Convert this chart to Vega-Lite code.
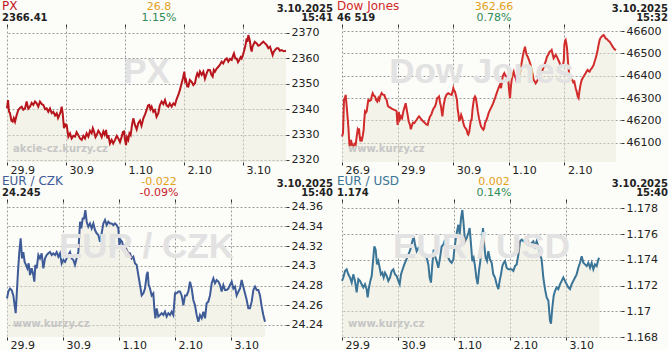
{
"$schema": "https://vega.github.io/schema/vega-lite/v6.json",
"background": "#fcfcf8",
"padding": {"left": 2, "top": 0, "right": 0, "bottom": 0},
"bounds": "flush",
"columns": 2,
"spacing": {"row": 40, "column": 56},
"datasets": {
"px": [{"d":0,"v":2340.3},{"d":0.017,"v":2343.6},{"d":0.034,"v":2339.0},{"d":0.051,"v":2338.4},{"d":0.075,"v":2335.5},{"d":0.096,"v":2335.1},{"d":0.115,"v":2336.5},{"d":0.136,"v":2335.1},{"d":0.164,"v":2337.7},{"d":0.192,"v":2339.7},{"d":0.22,"v":2340.5},{"d":0.249,"v":2341.0},{"d":0.277,"v":2339.8},{"d":0.305,"v":2340.3},{"d":0.333,"v":2343.0},{"d":0.36,"v":2340.2},{"d":0.39,"v":2341.0},{"d":0.418,"v":2342.5},{"d":0.446,"v":2341.7},{"d":0.475,"v":2343.0},{"d":0.503,"v":2342.3},{"d":0.53,"v":2341.0},{"d":0.559,"v":2343.0},{"d":0.59,"v":2342.0},{"d":0.616,"v":2341.7},{"d":0.645,"v":2340.0},{"d":0.672,"v":2340.3},{"d":0.7,"v":2339.0},{"d":0.729,"v":2340.3},{"d":0.757,"v":2338.5},{"d":0.785,"v":2339.0},{"d":0.815,"v":2337.5},{"d":0.842,"v":2338.4},{"d":0.865,"v":2336.5},{"d":0.887,"v":2337.7},{"d":0.91,"v":2339.0},{"d":0.927,"v":2341.0},{"d":0.944,"v":2338.4},{"d":0.966,"v":2332.5},{"d":0.99,"v":2334.0},{"d":1.011,"v":2333.8},{"d":1.04,"v":2329.2},{"d":1.068,"v":2330.5},{"d":1.096,"v":2328.5},{"d":1.125,"v":2329.5},{"d":1.153,"v":2329.2},{"d":1.18,"v":2331.0},{"d":1.209,"v":2329.8},{"d":1.237,"v":2328.5},{"d":1.266,"v":2327.9},{"d":1.294,"v":2329.5},{"d":1.322,"v":2328.5},{"d":1.35,"v":2330.5},{"d":1.379,"v":2329.2},{"d":1.407,"v":2331.5},{"d":1.435,"v":2330.5},{"d":1.455,"v":2332.5},{"d":1.475,"v":2331.2},{"d":1.5,"v":2329.0},{"d":1.52,"v":2329.8},{"d":1.548,"v":2331.5},{"d":1.576,"v":2330.5},{"d":1.605,"v":2329.0},{"d":1.633,"v":2331.2},{"d":1.655,"v":2330.0},{"d":1.678,"v":2331.8},{"d":1.7,"v":2328.5},{"d":1.718,"v":2329.8},{"d":1.745,"v":2326.5},{"d":1.774,"v":2327.9},{"d":1.8,"v":2326.5},{"d":1.831,"v":2327.9},{"d":1.86,"v":2329.5},{"d":1.887,"v":2328.5},{"d":1.915,"v":2327.0},{"d":1.944,"v":2329.2},{"d":1.965,"v":2331.0},{"d":1.983,"v":2331.2},{"d":2.0,"v":2328.0},{"d":2.017,"v":2325.9},{"d":2.035,"v":2329.0},{"d":2.056,"v":2327.9},{"d":2.075,"v":2330.5},{"d":2.096,"v":2329.8},{"d":2.12,"v":2334.0},{"d":2.141,"v":2336.4},{"d":2.169,"v":2333.8},{"d":2.198,"v":2332.0},{"d":2.225,"v":2334.5},{"d":2.254,"v":2335.5},{"d":2.28,"v":2333.5},{"d":2.311,"v":2336.4},{"d":2.34,"v":2338.0},{"d":2.367,"v":2339.7},{"d":2.39,"v":2341.5},{"d":2.412,"v":2341.7},{"d":2.432,"v":2340.0},{"d":2.452,"v":2341.0},{"d":2.48,"v":2339.0},{"d":2.508,"v":2339.7},{"d":2.535,"v":2337.0},{"d":2.565,"v":2338.4},{"d":2.59,"v":2341.5},{"d":2.621,"v":2343.0},{"d":2.65,"v":2342.0},{"d":2.678,"v":2343.6},{"d":2.705,"v":2341.5},{"d":2.734,"v":2341.0},{"d":2.76,"v":2342.3},{"d":2.791,"v":2341.0},{"d":2.82,"v":2342.3},{"d":2.847,"v":2341.7},{"d":2.875,"v":2344.0},{"d":2.904,"v":2345.6},{"d":2.93,"v":2347.5},{"d":2.96,"v":2350.2},{"d":2.985,"v":2352.5},{"d":3.006,"v":2354.8},{"d":3.02,"v":2351.0},{"d":3.034,"v":2351.5},{"d":3.055,"v":2349.0},{"d":3.073,"v":2348.9},{"d":3.1,"v":2351.5},{"d":3.13,"v":2350.8},{"d":3.158,"v":2349.5},{"d":3.186,"v":2350.2},{"d":3.205,"v":2352.5},{"d":3.226,"v":2354.1},{"d":3.25,"v":2353.0},{"d":3.271,"v":2354.8},{"d":3.3,"v":2353.5},{"d":3.328,"v":2354.8},{"d":3.355,"v":2352.0},{"d":3.384,"v":2354.1},{"d":3.41,"v":2355.5},{"d":3.441,"v":2355.4},{"d":3.465,"v":2353.5},{"d":3.486,"v":2352.8},{"d":3.505,"v":2355.5},{"d":3.525,"v":2354.8},{"d":3.555,"v":2356.0},{"d":3.582,"v":2356.7},{"d":3.61,"v":2357.5},{"d":3.638,"v":2358.7},{"d":3.665,"v":2358.0},{"d":3.695,"v":2359.4},{"d":3.725,"v":2360.0},{"d":3.751,"v":2358.7},{"d":3.78,"v":2359.8},{"d":3.808,"v":2359.4},{"d":3.83,"v":2361.0},{"d":3.847,"v":2362.0},{"d":3.87,"v":2360.0},{"d":3.893,"v":2360.0},{"d":3.915,"v":2358.5},{"d":3.938,"v":2359.4},{"d":3.96,"v":2360.5},{"d":3.977,"v":2360.0},{"d":4.0,"v":2361.5},{"d":4.023,"v":2363.3},{"d":4.045,"v":2365.5},{"d":4.062,"v":2367.9},{"d":4.075,"v":2366.5},{"d":4.09,"v":2369.2},{"d":4.105,"v":2368.0},{"d":4.119,"v":2366.6},{"d":4.133,"v":2364.0},{"d":4.147,"v":2362.7},{"d":4.16,"v":2364.5},{"d":4.175,"v":2365.3},{"d":4.2,"v":2366.5},{"d":4.232,"v":2365.9},{"d":4.26,"v":2365.0},{"d":4.288,"v":2365.3},{"d":4.315,"v":2366.0},{"d":4.345,"v":2366.6},{"d":4.37,"v":2366.0},{"d":4.401,"v":2365.3},{"d":4.43,"v":2364.0},{"d":4.458,"v":2364.6},{"d":4.48,"v":2363.0},{"d":4.503,"v":2361.3},{"d":4.52,"v":2362.5},{"d":4.542,"v":2363.3},{"d":4.57,"v":2364.0},{"d":4.599,"v":2364.0},{"d":4.625,"v":2363.0},{"d":4.655,"v":2363.3},{"d":4.69,"v":2362.8},{"d":4.729,"v":2363.0}],
"dow": [{"d":0,"v":46128},{"d":0.018,"v":46143},{"d":0.036,"v":46292},{"d":0.05,"v":46300},{"d":0.066,"v":46314},{"d":0.078,"v":46280},{"d":0.09,"v":46247},{"d":0.102,"v":46210},{"d":0.114,"v":46173},{"d":0.126,"v":46120},{"d":0.138,"v":46084},{"d":0.15,"v":46095},{"d":0.162,"v":46113},{"d":0.18,"v":46090},{"d":0.204,"v":46084},{"d":0.225,"v":46095},{"d":0.246,"v":46091},{"d":0.265,"v":46130},{"d":0.282,"v":46158},{"d":0.295,"v":46150},{"d":0.306,"v":46165},{"d":0.318,"v":46130},{"d":0.33,"v":46106},{"d":0.342,"v":46115},{"d":0.354,"v":46106},{"d":0.372,"v":46130},{"d":0.39,"v":46158},{"d":0.4,"v":46200},{"d":0.414,"v":46240},{"d":0.43,"v":46235},{"d":0.444,"v":46240},{"d":0.46,"v":46270},{"d":0.474,"v":46292},{"d":0.5,"v":46288},{"d":0.522,"v":46292},{"d":0.537,"v":46310},{"d":0.552,"v":46322},{"d":0.575,"v":46310},{"d":0.594,"v":46307},{"d":0.615,"v":46290},{"d":0.635,"v":46284},{"d":0.655,"v":46300},{"d":0.671,"v":46292},{"d":0.69,"v":46310},{"d":0.713,"v":46322},{"d":0.735,"v":46315},{"d":0.761,"v":46314},{"d":0.78,"v":46300},{"d":0.803,"v":46292},{"d":0.82,"v":46270},{"d":0.833,"v":46262},{"d":0.86,"v":46258},{"d":0.881,"v":46255},{"d":0.91,"v":46250},{"d":0.941,"v":46247},{"d":0.965,"v":46245},{"d":0.983,"v":46240},{"d":0.992,"v":46200},{"d":1.001,"v":46180},{"d":1.012,"v":46230},{"d":1.025,"v":46232},{"d":1.04,"v":46205},{"d":1.061,"v":46218},{"d":1.08,"v":46210},{"d":1.103,"v":46240},{"d":1.125,"v":46260},{"d":1.145,"v":46277},{"d":1.163,"v":46250},{"d":1.181,"v":46225},{"d":1.2,"v":46195},{"d":1.223,"v":46180},{"d":1.238,"v":46160},{"d":1.253,"v":46173},{"d":1.275,"v":46190},{"d":1.301,"v":46188},{"d":1.32,"v":46195},{"d":1.343,"v":46203},{"d":1.365,"v":46212},{"d":1.385,"v":46218},{"d":1.41,"v":46210},{"d":1.433,"v":46203},{"d":1.463,"v":46195},{"d":1.493,"v":46188},{"d":1.515,"v":46182},{"d":1.541,"v":46180},{"d":1.56,"v":46200},{"d":1.583,"v":46218},{"d":1.605,"v":46225},{"d":1.625,"v":46240},{"d":1.65,"v":46255},{"d":1.673,"v":46262},{"d":1.69,"v":46275},{"d":1.709,"v":46299},{"d":1.727,"v":46302},{"d":1.745,"v":46307},{"d":1.763,"v":46280},{"d":1.781,"v":46262},{"d":1.795,"v":46235},{"d":1.805,"v":46218},{"d":1.83,"v":46270},{"d":1.853,"v":46299},{"d":1.88,"v":46315},{"d":1.912,"v":46322},{"d":1.94,"v":46318},{"d":1.972,"v":46314},{"d":1.99,"v":46330},{"d":2.002,"v":46344},{"d":2.017,"v":46332},{"d":2.032,"v":46329},{"d":2.05,"v":46310},{"d":2.068,"v":46292},{"d":2.08,"v":46250},{"d":2.092,"v":46232},{"d":2.107,"v":46200},{"d":2.122,"v":46203},{"d":2.143,"v":46225},{"d":2.164,"v":46210},{"d":2.18,"v":46190},{"d":2.2,"v":46173},{"d":2.22,"v":46165},{"d":2.242,"v":46158},{"d":2.26,"v":46140},{"d":2.272,"v":46136},{"d":2.29,"v":46150},{"d":2.302,"v":46173},{"d":2.318,"v":46200},{"d":2.332,"v":46203},{"d":2.348,"v":46250},{"d":2.362,"v":46277},{"d":2.377,"v":46300},{"d":2.392,"v":46307},{"d":2.407,"v":46300},{"d":2.422,"v":46277},{"d":2.443,"v":46240},{"d":2.464,"v":46210},{"d":2.482,"v":46190},{"d":2.5,"v":46173},{"d":2.52,"v":46165},{"d":2.542,"v":46158},{"d":2.557,"v":46165},{"d":2.572,"v":46188},{"d":2.596,"v":46200},{"d":2.62,"v":46218},{"d":2.64,"v":46235},{"d":2.662,"v":46247},{"d":2.692,"v":46262},{"d":2.716,"v":46275},{"d":2.74,"v":46292},{"d":2.76,"v":46305},{"d":2.782,"v":46322},{"d":2.8,"v":46335},{"d":2.824,"v":46351},{"d":2.842,"v":46360},{"d":2.86,"v":46344},{"d":2.875,"v":46370},{"d":2.89,"v":46396},{"d":2.905,"v":46405},{"d":2.92,"v":46411},{"d":2.94,"v":46400},{"d":2.962,"v":46396},{"d":2.978,"v":46390},{"d":2.992,"v":46374},{"d":3.007,"v":46330},{"d":3.022,"v":46299},{"d":3.037,"v":46350},{"d":3.052,"v":46381},{"d":3.07,"v":46405},{"d":3.088,"v":46418},{"d":3.106,"v":46400},{"d":3.124,"v":46389},{"d":3.14,"v":46375},{"d":3.159,"v":46381},{"d":3.175,"v":46395},{"d":3.189,"v":46404},{"d":3.205,"v":46420},{"d":3.219,"v":46441},{"d":3.24,"v":46470},{"d":3.261,"v":46500},{"d":3.276,"v":46515},{"d":3.291,"v":46530},{"d":3.306,"v":46510},{"d":3.321,"v":46493},{"d":3.34,"v":46485},{"d":3.363,"v":46470},{"d":3.39,"v":46450},{"d":3.411,"v":46426},{"d":3.43,"v":46405},{"d":3.447,"v":46381},{"d":3.465,"v":46375},{"d":3.483,"v":46366},{"d":3.5,"v":46372},{"d":3.519,"v":46381},{"d":3.535,"v":46400},{"d":3.549,"v":46418},{"d":3.57,"v":46415},{"d":3.591,"v":46418},{"d":3.615,"v":46430},{"d":3.639,"v":46448},{"d":3.665,"v":46465},{"d":3.687,"v":46485},{"d":3.71,"v":46495},{"d":3.735,"v":46508},{"d":3.755,"v":46510},{"d":3.771,"v":46515},{"d":3.79,"v":46495},{"d":3.807,"v":46478},{"d":3.825,"v":46485},{"d":3.843,"v":46493},{"d":3.865,"v":46485},{"d":3.891,"v":46470},{"d":3.91,"v":46460},{"d":3.927,"v":46448},{"d":3.95,"v":46448},{"d":3.975,"v":46448},{"d":3.99,"v":46470},{"d":3.999,"v":46537},{"d":4.011,"v":46555},{"d":4.023,"v":46560},{"d":4.035,"v":46545},{"d":4.047,"v":46523},{"d":4.06,"v":46480},{"d":4.071,"v":46441},{"d":4.085,"v":46410},{"d":4.101,"v":46396},{"d":4.12,"v":46385},{"d":4.143,"v":46381},{"d":4.16,"v":46370},{"d":4.179,"v":46374},{"d":4.19,"v":46360},{"d":4.203,"v":46344},{"d":4.22,"v":46330},{"d":4.239,"v":46307},{"d":4.255,"v":46300},{"d":4.269,"v":46329},{"d":4.29,"v":46360},{"d":4.311,"v":46381},{"d":4.33,"v":46390},{"d":4.347,"v":46396},{"d":4.365,"v":46405},{"d":4.382,"v":46411},{"d":4.4,"v":46420},{"d":4.418,"v":46426},{"d":4.436,"v":46420},{"d":4.454,"v":46418},{"d":4.472,"v":46428},{"d":4.49,"v":46433},{"d":4.508,"v":46440},{"d":4.526,"v":46448},{"d":4.545,"v":46465},{"d":4.562,"v":46478},{"d":4.58,"v":46495},{"d":4.598,"v":46515},{"d":4.616,"v":46540},{"d":4.634,"v":46560},{"d":4.652,"v":46570},{"d":4.67,"v":46575},{"d":4.688,"v":46580},{"d":4.706,"v":46582},{"d":4.724,"v":46575},{"d":4.742,"v":46567},{"d":4.76,"v":46565},{"d":4.778,"v":46560},{"d":4.796,"v":46555},{"d":4.814,"v":46552},{"d":4.832,"v":46545},{"d":4.85,"v":46537},{"d":4.868,"v":46530},{"d":4.886,"v":46523},{"d":4.905,"v":46518},{"d":4.928,"v":46515}],
"czk": [{"d":0,"v":24.267},{"d":0.024,"v":24.274},{"d":0.054,"v":24.277},{"d":0.083,"v":24.2755},{"d":0.113,"v":24.27},{"d":0.137,"v":24.26},{"d":0.155,"v":24.252},{"d":0.173,"v":24.27},{"d":0.196,"v":24.294},{"d":0.22,"v":24.314},{"d":0.244,"v":24.328},{"d":0.268,"v":24.3076},{"d":0.292,"v":24.314},{"d":0.315,"v":24.304},{"d":0.339,"v":24.301},{"d":0.363,"v":24.2975},{"d":0.387,"v":24.3025},{"d":0.411,"v":24.2907},{"d":0.44,"v":24.2975},{"d":0.47,"v":24.2907},{"d":0.488,"v":24.284},{"d":0.506,"v":24.301},{"d":0.53,"v":24.2975},{"d":0.56,"v":24.311},{"d":0.589,"v":24.3076},{"d":0.619,"v":24.3127},{"d":0.649,"v":24.2975},{"d":0.679,"v":24.3076},{"d":0.708,"v":24.311},{"d":0.738,"v":24.3127},{"d":0.768,"v":24.314},{"d":0.798,"v":24.311},{"d":0.827,"v":24.3127},{"d":0.857,"v":24.311},{"d":0.887,"v":24.314},{"d":0.917,"v":24.3093},{"d":0.946,"v":24.3127},{"d":0.976,"v":24.3025},{"d":1.006,"v":24.306},{"d":1.036,"v":24.304},{"d":1.065,"v":24.3076},{"d":1.095,"v":24.311},{"d":1.125,"v":24.314},{"d":1.155,"v":24.3076},{"d":1.185,"v":24.306},{"d":1.214,"v":24.301},{"d":1.244,"v":24.3076},{"d":1.274,"v":24.314},{"d":1.304,"v":24.3448},{"d":1.327,"v":24.338},{"d":1.351,"v":24.348},{"d":1.375,"v":24.348},{"d":1.399,"v":24.3566},{"d":1.423,"v":24.3448},{"d":1.452,"v":24.3397},{"d":1.482,"v":24.343},{"d":1.512,"v":24.338},{"d":1.542,"v":24.343},{"d":1.571,"v":24.3363},{"d":1.601,"v":24.333},{"d":1.631,"v":24.3313},{"d":1.661,"v":24.3245},{"d":1.69,"v":24.333},{"d":1.72,"v":24.343},{"d":1.75,"v":24.3465},{"d":1.78,"v":24.3414},{"d":1.81,"v":24.3448},{"d":1.839,"v":24.343},{"d":1.869,"v":24.343},{"d":1.899,"v":24.3414},{"d":1.929,"v":24.343},{"d":1.958,"v":24.3414},{"d":1.988,"v":24.338},{"d":2.006,"v":24.3211},{"d":2.03,"v":24.3262},{"d":2.054,"v":24.3245},{"d":2.077,"v":24.3194},{"d":2.107,"v":24.3211},{"d":2.137,"v":24.316},{"d":2.167,"v":24.3127},{"d":2.196,"v":24.3127},{"d":2.226,"v":24.3076},{"d":2.256,"v":24.3093},{"d":2.286,"v":24.3025},{"d":2.315,"v":24.301},{"d":2.345,"v":24.2907},{"d":2.375,"v":24.2806},{"d":2.405,"v":24.27},{"d":2.435,"v":24.2721},{"d":2.464,"v":24.277},{"d":2.494,"v":24.2907},{"d":2.512,"v":24.294},{"d":2.53,"v":24.2806},{"d":2.554,"v":24.277},{"d":2.583,"v":24.27},{"d":2.613,"v":24.2721},{"d":2.631,"v":24.2569},{"d":2.649,"v":24.2468},{"d":2.673,"v":24.2569},{"d":2.702,"v":24.2485},{"d":2.732,"v":24.2501},{"d":2.762,"v":24.252},{"d":2.792,"v":24.2501},{"d":2.821,"v":24.2535},{"d":2.851,"v":24.2485},{"d":2.881,"v":24.252},{"d":2.911,"v":24.2501},{"d":2.94,"v":24.2535},{"d":2.97,"v":24.2501},{"d":3.0,"v":24.2721},{"d":3.03,"v":24.2721},{"d":3.06,"v":24.274},{"d":3.089,"v":24.274},{"d":3.119,"v":24.27},{"d":3.149,"v":24.26},{"d":3.179,"v":24.27},{"d":3.208,"v":24.27},{"d":3.238,"v":24.274},{"d":3.268,"v":24.284},{"d":3.298,"v":24.277},{"d":3.327,"v":24.2654},{"d":3.357,"v":24.26},{"d":3.387,"v":24.2501},{"d":3.417,"v":24.2434},{"d":3.446,"v":24.2501},{"d":3.476,"v":24.2468},{"d":3.506,"v":24.2535},{"d":3.536,"v":24.2468},{"d":3.565,"v":24.262},{"d":3.595,"v":24.2637},{"d":3.625,"v":24.27},{"d":3.655,"v":24.2823},{"d":3.685,"v":24.2873},{"d":3.714,"v":24.2823},{"d":3.744,"v":24.2856},{"d":3.774,"v":24.284},{"d":3.804,"v":24.2806},{"d":3.833,"v":24.274},{"d":3.863,"v":24.2806},{"d":3.893,"v":24.2755},{"d":3.923,"v":24.2755},{"d":3.952,"v":24.277},{"d":3.982,"v":24.2806},{"d":4.012,"v":24.284},{"d":4.042,"v":24.277},{"d":4.071,"v":24.2789},{"d":4.101,"v":24.27},{"d":4.131,"v":24.2738},{"d":4.161,"v":24.277},{"d":4.19,"v":24.2856},{"d":4.22,"v":24.2789},{"d":4.25,"v":24.2721},{"d":4.28,"v":24.2654},{"d":4.31,"v":24.2569},{"d":4.339,"v":24.2569},{"d":4.369,"v":24.2637},{"d":4.399,"v":24.2755},{"d":4.429,"v":24.2789},{"d":4.458,"v":24.2755},{"d":4.488,"v":24.2755},{"d":4.518,"v":24.27},{"d":4.548,"v":24.2586},{"d":4.577,"v":24.2501},{"d":4.607,"v":24.2434}],
"usd": [{"d":0,"v":1.17236},{"d":0.024,"v":1.17262},{"d":0.054,"v":1.17313},{"d":0.083,"v":1.17326},{"d":0.113,"v":1.17287},{"d":0.143,"v":1.17262},{"d":0.173,"v":1.17223},{"d":0.202,"v":1.17287},{"d":0.232,"v":1.17236},{"d":0.262,"v":1.17146},{"d":0.292,"v":1.17249},{"d":0.321,"v":1.17236},{"d":0.351,"v":1.1721},{"d":0.381,"v":1.17185},{"d":0.411,"v":1.1721},{"d":0.44,"v":1.17172},{"d":0.458,"v":1.17108},{"d":0.482,"v":1.17185},{"d":0.506,"v":1.17236},{"d":0.53,"v":1.17274},{"d":0.554,"v":1.1739},{"d":0.577,"v":1.17505},{"d":0.601,"v":1.17479},{"d":0.625,"v":1.17364},{"d":0.649,"v":1.1739},{"d":0.673,"v":1.17338},{"d":0.696,"v":1.17287},{"d":0.72,"v":1.173},{"d":0.744,"v":1.17262},{"d":0.768,"v":1.173},{"d":0.798,"v":1.17274},{"d":0.827,"v":1.17236},{"d":0.857,"v":1.17262},{"d":0.887,"v":1.17313},{"d":0.917,"v":1.17326},{"d":0.946,"v":1.17287},{"d":0.976,"v":1.17274},{"d":1.006,"v":1.17236},{"d":1.03,"v":1.1721},{"d":1.054,"v":1.17287},{"d":1.083,"v":1.17326},{"d":1.113,"v":1.17364},{"d":1.137,"v":1.1739},{"d":1.161,"v":1.17415},{"d":1.185,"v":1.17441},{"d":1.22,"v":1.17479},{"d":1.256,"v":1.17544},{"d":1.28,"v":1.17582},{"d":1.304,"v":1.17518},{"d":1.333,"v":1.17467},{"d":1.363,"v":1.17492},{"d":1.393,"v":1.17479},{"d":1.423,"v":1.17467},{"d":1.452,"v":1.17441},{"d":1.482,"v":1.17428},{"d":1.512,"v":1.17415},{"d":1.542,"v":1.17364},{"d":1.565,"v":1.17262},{"d":1.589,"v":1.17223},{"d":1.613,"v":1.17364},{"d":1.637,"v":1.17479},{"d":1.661,"v":1.17428},{"d":1.69,"v":1.1739},{"d":1.72,"v":1.17338},{"d":1.75,"v":1.17415},{"d":1.78,"v":1.17505},{"d":1.81,"v":1.17518},{"d":1.839,"v":1.17556},{"d":1.869,"v":1.17467},{"d":1.899,"v":1.17415},{"d":1.929,"v":1.1739},{"d":1.958,"v":1.17377},{"d":1.988,"v":1.17403},{"d":2.006,"v":1.17479},{"d":2.03,"v":1.17556},{"d":2.054,"v":1.17621},{"d":2.077,"v":1.17672},{"d":2.101,"v":1.17595},{"d":2.125,"v":1.17723},{"d":2.149,"v":1.17787},{"d":2.173,"v":1.17672},{"d":2.196,"v":1.17544},{"d":2.226,"v":1.17569},{"d":2.256,"v":1.17608},{"d":2.28,"v":1.17646},{"d":2.304,"v":1.17518},{"d":2.327,"v":1.1739},{"d":2.351,"v":1.17415},{"d":2.375,"v":1.17351},{"d":2.399,"v":1.17262},{"d":2.423,"v":1.1721},{"d":2.446,"v":1.17313},{"d":2.47,"v":1.1739},{"d":2.494,"v":1.17531},{"d":2.518,"v":1.17646},{"d":2.542,"v":1.17505},{"d":2.565,"v":1.17415},{"d":2.589,"v":1.1739},{"d":2.613,"v":1.17467},{"d":2.643,"v":1.17403},{"d":2.673,"v":1.17377},{"d":2.702,"v":1.17287},{"d":2.732,"v":1.17262},{"d":2.762,"v":1.1721},{"d":2.792,"v":1.17172},{"d":2.815,"v":1.17236},{"d":2.839,"v":1.17287},{"d":2.863,"v":1.17351},{"d":2.887,"v":1.17377},{"d":2.911,"v":1.1739},{"d":2.94,"v":1.17338},{"d":2.97,"v":1.17326},{"d":3.0,"v":1.17326},{"d":3.03,"v":1.17326},{"d":3.06,"v":1.17313},{"d":3.089,"v":1.17351},{"d":3.119,"v":1.17364},{"d":3.149,"v":1.17441},{"d":3.179,"v":1.17544},{"d":3.208,"v":1.17556},{"d":3.238,"v":1.17544},{"d":3.268,"v":1.17556},{"d":3.298,"v":1.17569},{"d":3.327,"v":1.17531},{"d":3.357,"v":1.17518},{"d":3.387,"v":1.17531},{"d":3.417,"v":1.17544},{"d":3.446,"v":1.17505},{"d":3.476,"v":1.17544},{"d":3.506,"v":1.17505},{"d":3.536,"v":1.17441},{"d":3.565,"v":1.17403},{"d":3.595,"v":1.17262},{"d":3.625,"v":1.17172},{"d":3.655,"v":1.17108},{"d":3.685,"v":1.17082},{"d":3.714,"v":1.16928},{"d":3.732,"v":1.16903},{"d":3.756,"v":1.17031},{"d":3.78,"v":1.17121},{"d":3.804,"v":1.17159},{"d":3.833,"v":1.17185},{"d":3.863,"v":1.17172},{"d":3.893,"v":1.1721},{"d":3.923,"v":1.17236},{"d":3.952,"v":1.17262},{"d":3.982,"v":1.17236},{"d":4.012,"v":1.1721},{"d":4.042,"v":1.17185},{"d":4.071,"v":1.17172},{"d":4.101,"v":1.1721},{"d":4.131,"v":1.17236},{"d":4.161,"v":1.17262},{"d":4.19,"v":1.17287},{"d":4.22,"v":1.17338},{"d":4.25,"v":1.17377},{"d":4.28,"v":1.17428},{"d":4.31,"v":1.17377},{"d":4.339,"v":1.17364},{"d":4.369,"v":1.17351},{"d":4.399,"v":1.17377},{"d":4.429,"v":1.17338},{"d":4.458,"v":1.17377},{"d":4.488,"v":1.17326},{"d":4.518,"v":1.17364},{"d":4.548,"v":1.17351},{"d":4.577,"v":1.17403},{"d":4.595,"v":1.17415}]
},
"concat": [
{"width": 279, "height": 135,
 "resolve": {"axis": {"x": "independent", "y": "independent"}},
 "layer": [
  {"data": {"name": "px"}, "mark": {"type": "area", "color": "#e9e9d8", "opacity": 0.45},
   "encoding": {"x": {"field": "d", "type": "quantitative", "title": null, "scale": {"domain": [0, 4.729], "nice": false, "zero": false}, "axis": {"orient": "top", "values": [0,1,2,3,4], "labels": false, "grid": false, "tickSize": 3}},
     "y": {"field": "v", "type": "quantitative", "title": null, "scale": {"domain": [2319.21, 2372.36], "zero": false, "nice": false}, "axis": null},
     "y2": {"datum": 2319.21}}},
  {"data": {"name": "px"}, "mark": {"type": "line", "color": "#b8141c", "strokeWidth": 2},
   "encoding": {"x": {"field": "d", "type": "quantitative", "title": null, "scale": {"domain": [0, 4.729], "nice": false, "zero": false},
     "axis": {"orient": "bottom", "values": [0,1,2,3,4], "labelExpr": "['29.9','30.9','1.10','2.10','3.10'][datum.value]", "labelAlign": "left", "labelOffset": 3, "labelPadding": -1, "tickSize": 3, "grid": true, "labelFlush": false, "labelBound": false, "labelOverlap": false}},
     "y": {"field": "v", "type": "quantitative", "title": null, "scale": {"domain": [2319.21, 2372.36], "zero": false, "nice": false},
     "axis": {"orient": "right", "values": [2320,2330,2340,2350,2360,2370], "format": "d", "tickSize": 3, "labelPadding": 2, "grid": true}}}},
  {"data": {"values": [{"t": "PX"}]}, "mark": {"type": "text", "font": "Liberation Sans", "fontWeight": "bold", "fontSize": 35, "color": "#e2e2e2", "align": "center", "baseline": "alphabetic"},
   "encoding": {"text": {"field": "t"}, "x": {"datum": 2.3645, "type": "quantitative", "axis": null}, "y": {"datum": 2350.3, "type": "quantitative", "axis": null}}},
  {"data": {"values": [{"t": "akcie-cz.kurzy.cz"}]}, "mark": {"type": "text", "fontWeight": "bold", "fontSize": 10, "color": "#c6c6c6", "align": "left", "baseline": "alphabetic", "dx": 6},
   "encoding": {"text": {"field": "t"}, "x": {"datum": 0, "type": "quantitative", "axis": null}, "y": {"datum": 2323.15, "type": "quantitative", "axis": null}}},
  {"data": {"values": [{"t": "PX"}]}, "mark": {"type": "text", "fontSize": 12, "color": "#c0161e", "align": "left", "baseline": "alphabetic", "dx": -5, "dy": -17},
   "encoding": {"text": {"field": "t"}, "x": {"datum": 0, "type": "quantitative", "axis": null}, "y": {"datum": 2372.36, "type": "quantitative", "axis": null}}},
  {"data": {"values": [{"t": "2366.41"}]}, "mark": {"type": "text", "fontSize": 10, "fontWeight": "bold", "color": "#222222", "align": "left", "baseline": "alphabetic", "dx": -5, "dy": -6.5},
   "encoding": {"text": {"field": "t"}, "x": {"datum": 0, "type": "quantitative", "axis": null}, "y": {"datum": 2372.36, "type": "quantitative", "axis": null}}},
  {"data": {"values": [{"t": "26.8"}]}, "mark": {"type": "text", "fontSize": 11, "color": "#e3a11a", "align": "center", "baseline": "alphabetic", "dy": -17.5},
   "encoding": {"text": {"field": "t"}, "x": {"datum": 2.576, "type": "quantitative", "axis": null}, "y": {"datum": 2372.36, "type": "quantitative", "axis": null}}},
  {"data": {"values": [{"t": "1.15%"}]}, "mark": {"type": "text", "fontSize": 11, "color": "#2e8b57", "align": "center", "baseline": "alphabetic", "dy": -6.5},
   "encoding": {"text": {"field": "t"}, "x": {"datum": 2.576, "type": "quantitative", "axis": null}, "y": {"datum": 2372.36, "type": "quantitative", "axis": null}}},
  {"data": {"values": [{"t": "3.10.2025"}]}, "mark": {"type": "text", "fontSize": 10, "fontWeight": "bold", "color": "#222222", "align": "right", "baseline": "alphabetic", "dx": 47, "dy": -15.5},
   "encoding": {"text": {"field": "t"}, "x": {"datum": 4.729, "type": "quantitative", "axis": null}, "y": {"datum": 2372.36, "type": "quantitative", "axis": null}}},
  {"data": {"values": [{"t": "15:41"}]}, "mark": {"type": "text", "fontSize": 10, "fontWeight": "bold", "color": "#222222", "align": "right", "baseline": "alphabetic", "dx": 47, "dy": -6},
   "encoding": {"text": {"field": "t"}, "x": {"datum": 4.729, "type": "quantitative", "axis": null}, "y": {"datum": 2372.36, "type": "quantitative", "axis": null}}}
 ]},
{"width": 279, "height": 135,
 "resolve": {"axis": {"x": "independent", "y": "independent"}},
 "layer": [
  {"data": {"name": "dow"}, "mark": {"type": "area", "color": "#e9e9d8", "opacity": 0.45},
   "encoding": {"x": {"field": "d", "type": "quantitative", "title": null, "scale": {"domain": [0, 5.018], "nice": false, "zero": false}, "axis": {"orient": "top", "values": [0,1,2,3,4], "labels": false, "grid": false, "tickSize": 3}},
     "y": {"field": "v", "type": "quantitative", "title": null, "scale": {"domain": [46013.8, 46617.9], "zero": false, "nice": false}, "axis": null},
     "y2": {"datum": 46013.8}}},
  {"data": {"name": "dow"}, "mark": {"type": "line", "color": "#d22b2b", "strokeWidth": 2},
   "encoding": {"x": {"field": "d", "type": "quantitative", "title": null, "scale": {"domain": [0, 5.018], "nice": false, "zero": false},
     "axis": {"orient": "bottom", "values": [0,1,2,3,4], "labelExpr": "['26.9','29.9','30.9','1.10','2.10'][datum.value]", "labelAlign": "left", "labelOffset": 3, "labelPadding": -1, "tickSize": 3, "grid": true, "labelFlush": false, "labelBound": false, "labelOverlap": false}},
     "y": {"field": "v", "type": "quantitative", "title": null, "scale": {"domain": [46013.8, 46617.9], "zero": false, "nice": false},
     "axis": {"orient": "right", "values": [46100,46200,46300,46400,46500,46600], "format": "d", "tickSize": 3, "labelPadding": 2, "grid": true}}}},
  {"data": {"values": [{"t": "Dow Jones"}]}, "mark": {"type": "text", "font": "Liberation Sans", "fontWeight": "bold", "fontSize": 35, "color": "#e2e2e2", "align": "center", "baseline": "alphabetic"},
   "encoding": {"text": {"field": "t"}, "x": {"datum": 2.509, "type": "quantitative", "axis": null}, "y": {"datum": 46367.9, "type": "quantitative", "axis": null}}},
  {"data": {"values": [{"t": "www.kurzy.cz"}]}, "mark": {"type": "text", "fontWeight": "bold", "fontSize": 10, "color": "#c6c6c6", "align": "left", "baseline": "alphabetic", "dx": 6},
   "encoding": {"text": {"field": "t"}, "x": {"datum": 0, "type": "quantitative", "axis": null}, "y": {"datum": 46059.9, "type": "quantitative", "axis": null}}},
  {"data": {"values": [{"t": "Dow Jones"}]}, "mark": {"type": "text", "fontSize": 12, "color": "#d02a2a", "align": "left", "baseline": "alphabetic", "dx": -5, "dy": -17},
   "encoding": {"text": {"field": "t"}, "x": {"datum": 0, "type": "quantitative", "axis": null}, "y": {"datum": 46617.9, "type": "quantitative", "axis": null}}},
  {"data": {"values": [{"t": "46 519"}]}, "mark": {"type": "text", "fontSize": 10, "fontWeight": "bold", "color": "#222222", "align": "left", "baseline": "alphabetic", "dx": -5, "dy": -6.5},
   "encoding": {"text": {"field": "t"}, "x": {"datum": 0, "type": "quantitative", "axis": null}, "y": {"datum": 46617.9, "type": "quantitative", "axis": null}}},
  {"data": {"values": [{"t": "362.66"}]}, "mark": {"type": "text", "fontSize": 11, "color": "#e3a11a", "align": "center", "baseline": "alphabetic", "dy": -17.5},
   "encoding": {"text": {"field": "t"}, "x": {"datum": 2.734, "type": "quantitative", "axis": null}, "y": {"datum": 46617.9, "type": "quantitative", "axis": null}}},
  {"data": {"values": [{"t": "0.78%"}]}, "mark": {"type": "text", "fontSize": 11, "color": "#2e8b57", "align": "center", "baseline": "alphabetic", "dy": -6.5},
   "encoding": {"text": {"field": "t"}, "x": {"datum": 2.734, "type": "quantitative", "axis": null}, "y": {"datum": 46617.9, "type": "quantitative", "axis": null}}},
  {"data": {"values": [{"t": "3.10.2025"}]}, "mark": {"type": "text", "fontSize": 10, "fontWeight": "bold", "color": "#222222", "align": "right", "baseline": "alphabetic", "dx": 47, "dy": -15.5},
   "encoding": {"text": {"field": "t"}, "x": {"datum": 5.018, "type": "quantitative", "axis": null}, "y": {"datum": 46617.9, "type": "quantitative", "axis": null}}},
  {"data": {"values": [{"t": "15:32"}]}, "mark": {"type": "text", "fontSize": 10, "fontWeight": "bold", "color": "#222222", "align": "right", "baseline": "alphabetic", "dx": 47, "dy": -6},
   "encoding": {"text": {"field": "t"}, "x": {"datum": 5.018, "type": "quantitative", "axis": null}, "y": {"datum": 46617.9, "type": "quantitative", "axis": null}}}
 ]},
{"width": 279, "height": 135,
 "resolve": {"axis": {"x": "independent", "y": "independent"}},
 "layer": [
  {"data": {"name": "czk"}, "mark": {"type": "area", "color": "#e9e9d8", "opacity": 0.45},
   "encoding": {"x": {"field": "d", "type": "quantitative", "title": null, "scale": {"domain": [0, 4.982], "nice": false, "zero": false}, "axis": {"orient": "top", "values": [0,1,2,3,4], "labels": false, "grid": false, "tickSize": 3}},
     "y": {"field": "v", "type": "quantitative", "title": null, "scale": {"domain": [24.22782, 24.36477], "zero": false, "nice": false}, "axis": null},
     "y2": {"datum": 24.22782}}},
  {"data": {"name": "czk"}, "mark": {"type": "line", "color": "#3e5b98", "strokeWidth": 2},
   "encoding": {"x": {"field": "d", "type": "quantitative", "title": null, "scale": {"domain": [0, 4.982], "nice": false, "zero": false},
     "axis": {"orient": "bottom", "values": [0,1,2,3,4], "labelExpr": "['29.9','30.9','1.10','2.10','3.10'][datum.value]", "labelAlign": "left", "labelOffset": 3, "labelPadding": -1, "tickSize": 3, "grid": true, "labelFlush": false, "labelBound": false, "labelOverlap": false}},
     "y": {"field": "v", "type": "quantitative", "title": null, "scale": {"domain": [24.22782, 24.36477], "zero": false, "nice": false},
     "axis": {"orient": "right", "values": [24.24,24.26,24.28,24.3,24.32,24.34,24.36], "format": ".2~f", "tickSize": 3, "labelPadding": 2, "grid": true}}}},
  {"data": {"values": [{"t": "EUR / CZK"}]}, "mark": {"type": "text", "font": "Liberation Sans", "fontWeight": "bold", "fontSize": 35, "color": "#e2e2e2", "align": "center", "baseline": "alphabetic"},
   "encoding": {"text": {"field": "t"}, "x": {"datum": 2.491, "type": "quantitative", "axis": null}, "y": {"datum": 24.30792, "type": "quantitative", "axis": null}}},
  {"data": {"values": [{"t": "www.kurzy.cz"}]}, "mark": {"type": "text", "fontWeight": "bold", "fontSize": 10, "color": "#c6c6c6", "align": "left", "baseline": "alphabetic", "dx": 6},
   "encoding": {"text": {"field": "t"}, "x": {"datum": 0, "type": "quantitative", "axis": null}, "y": {"datum": 24.23787, "type": "quantitative", "axis": null}}},
  {"data": {"values": [{"t": "EUR / CZK"}]}, "mark": {"type": "text", "fontSize": 12, "color": "#3e5b98", "align": "left", "baseline": "alphabetic", "dx": -5, "dy": -17},
   "encoding": {"text": {"field": "t"}, "x": {"datum": 0, "type": "quantitative", "axis": null}, "y": {"datum": 24.36477, "type": "quantitative", "axis": null}}},
  {"data": {"values": [{"t": "24.245"}]}, "mark": {"type": "text", "fontSize": 10, "fontWeight": "bold", "color": "#222222", "align": "left", "baseline": "alphabetic", "dx": -5, "dy": -6.5},
   "encoding": {"text": {"field": "t"}, "x": {"datum": 0, "type": "quantitative", "axis": null}, "y": {"datum": 24.36477, "type": "quantitative", "axis": null}}},
  {"data": {"values": [{"t": "-0.022"}]}, "mark": {"type": "text", "fontSize": 11, "color": "#e3a11a", "align": "center", "baseline": "alphabetic", "dy": -17.5},
   "encoding": {"text": {"field": "t"}, "x": {"datum": 2.714, "type": "quantitative", "axis": null}, "y": {"datum": 24.36477, "type": "quantitative", "axis": null}}},
  {"data": {"values": [{"t": "-0.09%"}]}, "mark": {"type": "text", "fontSize": 11, "color": "#c8202a", "align": "center", "baseline": "alphabetic", "dy": -6.5},
   "encoding": {"text": {"field": "t"}, "x": {"datum": 2.714, "type": "quantitative", "axis": null}, "y": {"datum": 24.36477, "type": "quantitative", "axis": null}}},
  {"data": {"values": [{"t": "3.10.2025"}]}, "mark": {"type": "text", "fontSize": 10, "fontWeight": "bold", "color": "#222222", "align": "right", "baseline": "alphabetic", "dx": 47, "dy": -15.5},
   "encoding": {"text": {"field": "t"}, "x": {"datum": 4.982, "type": "quantitative", "axis": null}, "y": {"datum": 24.36477, "type": "quantitative", "axis": null}}},
  {"data": {"values": [{"t": "15:40"}]}, "mark": {"type": "text", "fontSize": 10, "fontWeight": "bold", "color": "#222222", "align": "right", "baseline": "alphabetic", "dx": 47, "dy": -6},
   "encoding": {"text": {"field": "t"}, "x": {"datum": 4.982, "type": "quantitative", "axis": null}, "y": {"datum": 24.36477, "type": "quantitative", "axis": null}}}
 ]},
{"width": 279, "height": 135,
 "resolve": {"axis": {"x": "independent", "y": "independent"}},
 "layer": [
  {"data": {"name": "usd"}, "mark": {"type": "area", "color": "#e9e9d8", "opacity": 0.45},
   "encoding": {"x": {"field": "d", "type": "quantitative", "title": null, "scale": {"domain": [0, 4.982], "nice": false, "zero": false}, "axis": {"orient": "top", "values": [0,1,2,3,4], "labels": false, "grid": false, "tickSize": 3}},
     "y": {"field": "v", "type": "quantitative", "title": null, "scale": {"domain": [1.168, 1.17849], "zero": false, "nice": false}, "axis": null},
     "y2": {"datum": 1.168}}},
  {"data": {"name": "usd"}, "mark": {"type": "line", "color": "#3a7497", "strokeWidth": 2},
   "encoding": {"x": {"field": "d", "type": "quantitative", "title": null, "scale": {"domain": [0, 4.982], "nice": false, "zero": false},
     "axis": {"orient": "bottom", "values": [0,1,2,3,4], "labelExpr": "['29.9','30.9','1.10','2.10','3.10'][datum.value]", "labelAlign": "left", "labelOffset": 3, "labelPadding": -1, "tickSize": 3, "grid": true, "labelFlush": false, "labelBound": false, "labelOverlap": false}},
     "y": {"field": "v", "type": "quantitative", "title": null, "scale": {"domain": [1.168, 1.17849], "zero": false, "nice": false},
     "axis": {"orient": "right", "values": [1.168,1.17,1.172,1.174,1.176,1.178], "format": ".3~f", "tickSize": 3, "labelPadding": 2, "grid": true}}}},
  {"data": {"values": [{"t": "EUR / USD"}]}, "mark": {"type": "text", "font": "Liberation Sans", "fontWeight": "bold", "fontSize": 35, "color": "#e2e2e2", "align": "center", "baseline": "alphabetic"},
   "encoding": {"text": {"field": "t"}, "x": {"datum": 2.491, "type": "quantitative", "axis": null}, "y": {"datum": 1.17414, "type": "quantitative", "axis": null}}},
  {"data": {"values": [{"t": "www.kurzy.cz"}]}, "mark": {"type": "text", "fontWeight": "bold", "fontSize": 10, "color": "#c6c6c6", "align": "left", "baseline": "alphabetic", "dx": 6},
   "encoding": {"text": {"field": "t"}, "x": {"datum": 0, "type": "quantitative", "axis": null}, "y": {"datum": 1.16878, "type": "quantitative", "axis": null}}},
  {"data": {"values": [{"t": "EUR / USD"}]}, "mark": {"type": "text", "fontSize": 12, "color": "#3a7497", "align": "left", "baseline": "alphabetic", "dx": -5, "dy": -17},
   "encoding": {"text": {"field": "t"}, "x": {"datum": 0, "type": "quantitative", "axis": null}, "y": {"datum": 1.17849, "type": "quantitative", "axis": null}}},
  {"data": {"values": [{"t": "1.174"}]}, "mark": {"type": "text", "fontSize": 10, "fontWeight": "bold", "color": "#222222", "align": "left", "baseline": "alphabetic", "dx": -5, "dy": -6.5},
   "encoding": {"text": {"field": "t"}, "x": {"datum": 0, "type": "quantitative", "axis": null}, "y": {"datum": 1.17849, "type": "quantitative", "axis": null}}},
  {"data": {"values": [{"t": "0.002"}]}, "mark": {"type": "text", "fontSize": 11, "color": "#e3a11a", "align": "center", "baseline": "alphabetic", "dy": -17.5},
   "encoding": {"text": {"field": "t"}, "x": {"datum": 2.714, "type": "quantitative", "axis": null}, "y": {"datum": 1.17849, "type": "quantitative", "axis": null}}},
  {"data": {"values": [{"t": "0.14%"}]}, "mark": {"type": "text", "fontSize": 11, "color": "#2e8b57", "align": "center", "baseline": "alphabetic", "dy": -6.5},
   "encoding": {"text": {"field": "t"}, "x": {"datum": 2.714, "type": "quantitative", "axis": null}, "y": {"datum": 1.17849, "type": "quantitative", "axis": null}}},
  {"data": {"values": [{"t": "3.10.2025"}]}, "mark": {"type": "text", "fontSize": 10, "fontWeight": "bold", "color": "#222222", "align": "right", "baseline": "alphabetic", "dx": 47, "dy": -15.5},
   "encoding": {"text": {"field": "t"}, "x": {"datum": 4.982, "type": "quantitative", "axis": null}, "y": {"datum": 1.17849, "type": "quantitative", "axis": null}}},
  {"data": {"values": [{"t": "15:40"}]}, "mark": {"type": "text", "fontSize": 10, "fontWeight": "bold", "color": "#222222", "align": "right", "baseline": "alphabetic", "dx": 47, "dy": -6},
   "encoding": {"text": {"field": "t"}, "x": {"datum": 4.982, "type": "quantitative", "axis": null}, "y": {"datum": 1.17849, "type": "quantitative", "axis": null}}}
 ]}
],
"config": {
 "view": {"stroke": null},
 "axis": {"labelFont": "DejaVu Sans", "labelFontSize": 11, "labelColor": "#222222", "tickColor": "#333333", "domain": false, "gridColor": "#9a9a9a", "gridDash": [2, 2], "gridWidth": 1, "tickWidth": 1},
 "text": {"font": "DejaVu Sans"}
}
}
